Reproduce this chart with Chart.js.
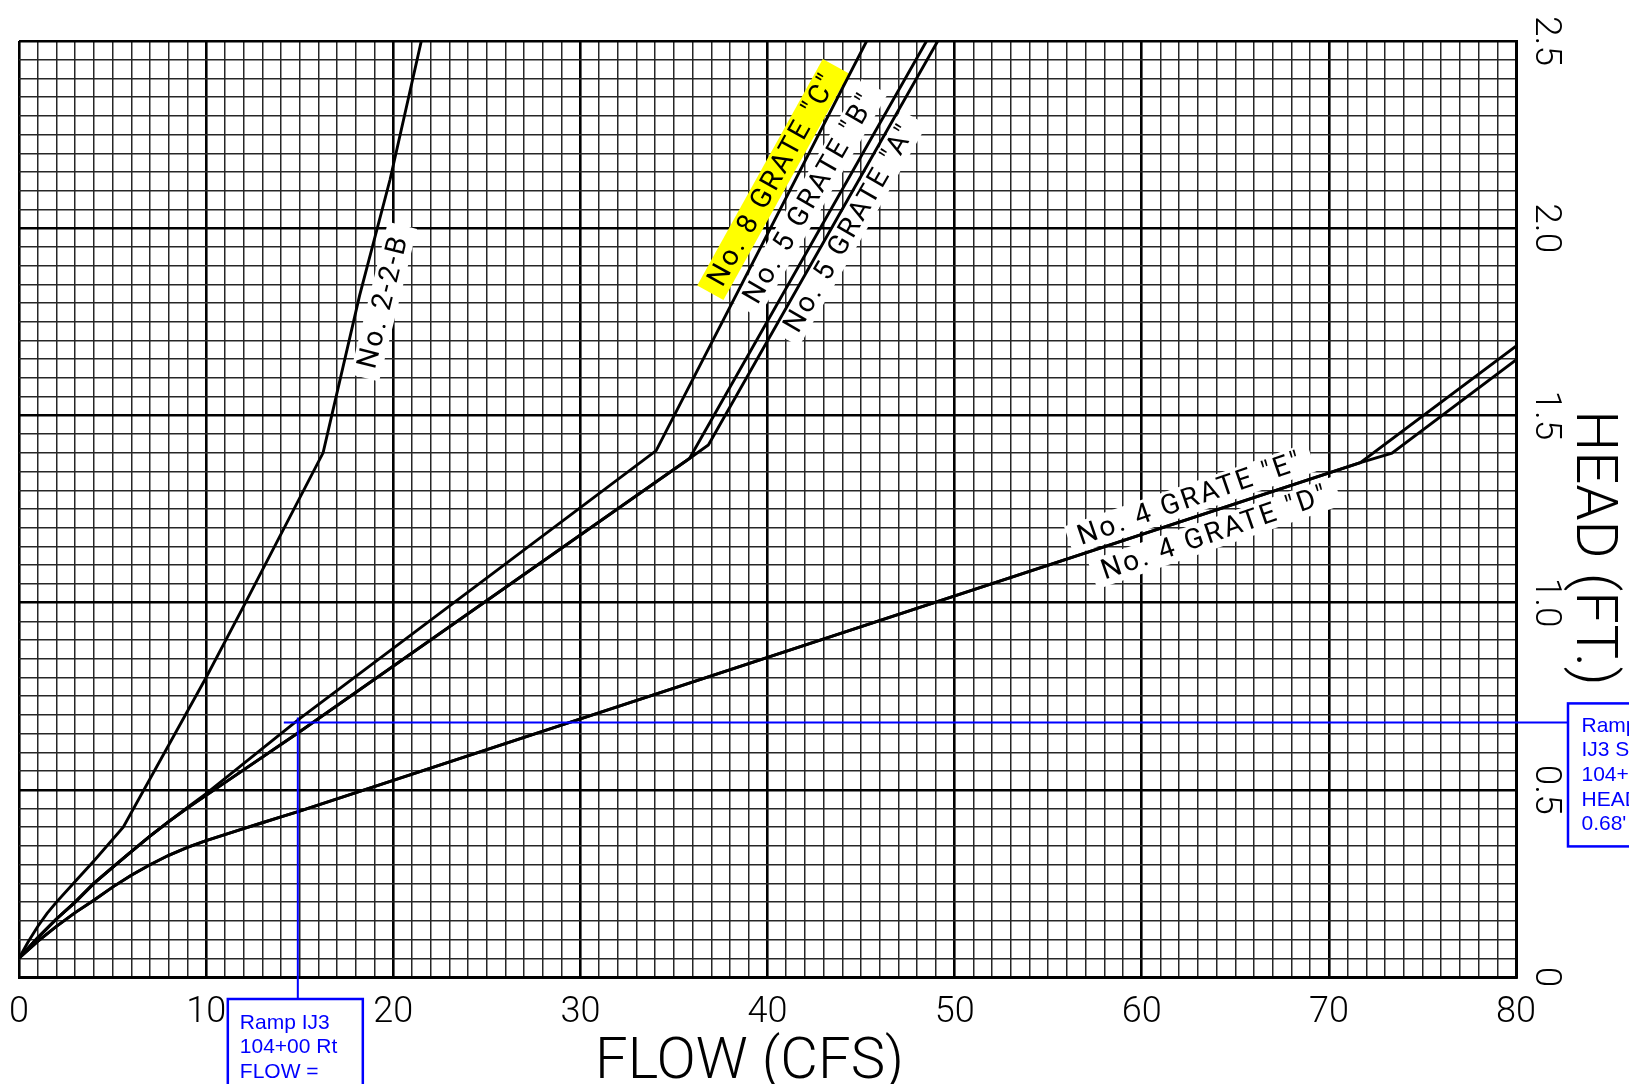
<!DOCTYPE html>
<html>
<head>
<meta charset="utf-8">
<title>Grate Inlet Capacity</title>
<script src="https://cdn.jsdelivr.net/npm/chart.js@4.4.1/dist/chart.umd.min.js"></script>
<style>
  html, body { margin: 0; padding: 0; background: #fff; }
  #wrap { width: 1629px; height: 1084px; position: relative; }
</style>
</head>
<body>
<div id="wrap"><canvas id="gratesChart"></canvas></div>
<script>
// values: flow (cfs) vs head (ft)
const flowTicks = [0, 10, 20, 30, 40, 50, 60, 70, 80];
const headTicks = [0, 0.5, 1.0, 1.5, 2.0, 2.5];

const grate22BFlow = [0, 0.5, 1, 1.5, 2, 3, 4, 5.57, 10, 12, 16.25, 18.2, 19.83, 21.5];
const grate22BHead = [0.05, 0.095, 0.135, 0.17, 0.2, 0.255, 0.31, 0.4, 0.8, 0.99, 1.4, 1.82, 2.13, 2.5];

const grate8CFlow = [0, 1, 2, 3, 4, 5, 6, 7, 8, 9, 10, 15, 34.05, 45.3];
const grate8CHead = [0.05, 0.105, 0.155, 0.2, 0.25, 0.293, 0.335, 0.376, 0.415, 0.453, 0.49, 0.69, 1.406, 2.5];

const grate5BFlow = [0, 1, 2, 3, 4, 5, 6, 7, 8, 9, 10, 15, 35.83, 48.5];
const grate5BHead = [0.05, 0.105, 0.155, 0.2, 0.25, 0.293, 0.335, 0.376, 0.415, 0.451, 0.485, 0.655, 1.385, 2.5];

const grate5AFlow = [0, 1, 2, 3, 4, 5, 6, 7, 8, 9, 10, 15, 35.83, 36.84, 49.1];
const grate5AHead = [0.05, 0.105, 0.155, 0.2, 0.25, 0.293, 0.335, 0.376, 0.415, 0.451, 0.485, 0.655, 1.385, 1.421, 2.5];

const grate4EFlow = [0, 1, 2, 3, 4, 5, 6, 7, 8, 9, 10, 11, 12, 13, 14, 15, 71.68, 80];
const grate4EHead = [0.05, 0.095, 0.135, 0.172, 0.205, 0.24, 0.272, 0.3, 0.325, 0.346, 0.364, 0.38, 0.396, 0.412, 0.428, 0.443, 1.374, 1.685];

const grate4DFlow = [0, 1, 2, 3, 4, 5, 6, 7, 8, 9, 10, 11, 12, 13, 14, 15, 71.68, 73.37, 80];
const grate4DHead = [0.05, 0.095, 0.135, 0.172, 0.205, 0.24, 0.272, 0.3, 0.325, 0.346, 0.364, 0.38, 0.396, 0.412, 0.428, 0.443, 1.374, 1.399, 1.648];

const curveNames = ['No. 2-2-B', 'No. 8 GRATE "C"', 'No. 5 GRATE "B"', 'No. 5 GRATE "A"', 'No. 4 GRATE "E"', 'No. 4 GRATE "D"'];

// design point (Ramp IJ3 104+00 Rt)
const designFlow = 14.9;
const designHead = 0.68;

function pts(xs, ys) {
    return xs.map((x, i) => ({ x: x, y: ys[i] }));
}

function curve(label, xs, ys) {
    return {
        label: label,
        data: pts(xs, ys),
        borderColor: "#000",
        borderWidth: 2.9,
        pointRadius: 0,
        tension: 0,
        fill: false
    };
}

// where each curve name sits (data coords) and its angle on screen
const curveLabelSpots = [
    { flow: 19.48, head: 1.804, angle: -76, bg: "#fff" },
    { flow: 40.3, head: 2.13, angle: -61, bg: "#ffff00" },
    { flow: 42.28, head: 2.08, angle: -60, bg: "#fff" },
    { flow: 44.41, head: 2.0, angle: -60, bg: "#fff" },
    { flow: 62.59, head: 1.277, angle: -19, bg: "#fff" },
    { flow: 63.92, head: 1.186, angle: -19, bg: "#fff" }
];

const labelFont = "400 28px Roboto";

function eachLabel(chart, fn) {
    const ctx = chart.ctx;
    const xs = chart.scales.x, ys = chart.scales.y;
    curveLabelSpots.forEach((s, i) => {
        ctx.save();
        ctx.translate(xs.getPixelForValue(s.flow), ys.getPixelForValue(s.head));
        ctx.rotate(s.angle * Math.PI / 180);
        ctx.font = labelFont;
        ctx.letterSpacing = "2.5px";
        fn(ctx, s, curveNames[i]);
        ctx.restore();
    });
}

const annotations = {
    id: "annotations",
    beforeDatasetsDraw(chart) {
        eachLabel(chart, (ctx, s, text) => {
            const w = ctx.measureText(text).width + 20;
            ctx.fillStyle = s.bg;
            ctx.fillRect(-w / 2, -15, w, 30);
        });
    },
    afterDatasetsDraw(chart) {
        const ctx = chart.ctx;
        const area = chart.chartArea;
        const xs = chart.scales.x, ys = chart.scales.y;

        eachLabel(chart, (ctx, s, text) => {
            ctx.fillStyle = "#000";
            ctx.textAlign = "center";
            ctx.textBaseline = "middle";
            ctx.fillText(text, 0, 1);
        });

        // blue design point lines and call-out boxes
        const px = xs.getPixelForValue(designFlow);
        const py = ys.getPixelForValue(designHead);
        const rightBoxX = area.right + 52;
        const bottomBoxY = area.bottom + 22;
        ctx.save();
        ctx.strokeStyle = "#0000ff";
        ctx.fillStyle = "#0000ff";
        ctx.lineWidth = 2;
        ctx.beginPath();
        ctx.moveTo(px - 14, py);
        ctx.lineTo(rightBoxX, py);
        ctx.moveTo(px, py - 5);
        ctx.lineTo(px, bottomBoxY);
        ctx.stroke();

        ctx.lineWidth = 2.5;
        ctx.strokeRect(rightBoxX, py - 19, 120, 143);
        ctx.strokeRect(px - 70, bottomBoxY, 135, 120);

        ctx.font = "21px 'Liberation Sans', Arial, sans-serif";
        ctx.textAlign = "left";
        ctx.textBaseline = "alphabetic";
        ["Ramp", "IJ3 SB", "104+00 Rt", "HEAD =", "0.68'"].forEach((t, i) => {
            ctx.fillText(t, rightBoxX + 13.5, py + 9.3 + i * 24.6);
        });
        ["Ramp IJ3", "104+00 Rt", "FLOW =", "14.9 cfs"].forEach((t, i) => {
            ctx.fillText(t, px - 58, bottomBoxY + 30 + i * 24.4);
        });
        ctx.restore();

        // axis titles
        ctx.save();
        ctx.fillStyle = "#000";
        ctx.font = "300 58px Roboto";
        ctx.textAlign = "center";
        ctx.textBaseline = "alphabetic";
        ctx.fillText("FLOW (CFS)", (area.left + area.right) / 2 - 18, area.bottom + 101);
        ctx.translate(area.right + 61, (area.top + area.bottom) / 2 + 39);
        ctx.rotate(Math.PI / 2);
        ctx.fillText("HEAD (FT.)", 0, 0);
        ctx.restore();
    }
};

function isMajorFlow(v) { return flowTicks.includes(Math.round(v * 100) / 100); }
function isMajorHead(v) { return headTicks.includes(Math.round(v * 100) / 100); }

const ctx = document.getElementById("gratesChart").getContext("2d");
new Chart(ctx, {
    type: "line",
    data: {
        datasets: [
            curve(curveNames[0], grate22BFlow, grate22BHead),
            curve(curveNames[1], grate8CFlow, grate8CHead),
            curve(curveNames[2], grate5BFlow, grate5BHead),
            curve(curveNames[3], grate5AFlow, grate5AHead),
            curve(curveNames[4], grate4EFlow, grate4EHead),
            curve(curveNames[5], grate4DFlow, grate4DHead)
        ]
    },
    options: {
        responsive: true,
        maintainAspectRatio: false,
        animation: false,
        layout: { padding: { left: 19, top: 41, right: 0, bottom: 0 } },
        plugins: {
            legend: { display: false },
            tooltip: { enabled: false }
        },
        scales: {
            x: {
                type: "linear",
                position: "bottom",
                min: 0,
                max: 80,
                afterFit: s => { s.height = 107; s.paddingLeft = 0; s.paddingRight = 0; },
                ticks: {
                    stepSize: 1,
                    autoSkip: false,
                    maxTicksLimit: 200,
                    maxRotation: 0,
                    minRotation: 0,
                    padding: 14,
                    color: "#000",
                    font: { family: "Roboto", size: 36, weight: 300 },
                    callback: v => isMajorFlow(v) ? String(Math.round(v)) : ""
                },
                grid: {
                    drawTicks: false,
                    color: c => isMajorFlow(c.tick.value) ? "#000" : "#262626",
                    lineWidth: c => isMajorFlow(c.tick.value) ? 2.6 : 1.5
                },
                border: { display: true, color: "#000", width: 3 }
            },
            y: {
                type: "linear",
                position: "right",
                min: 0,
                max: 2.5,
                afterFit: s => { s.width = 113; s.paddingTop = 0; s.paddingBottom = 0; },
                ticks: {
                    stepSize: 0.05,
                    autoSkip: false,
                    maxTicksLimit: 200,
                    minRotation: -90,
                    maxRotation: -90,
                    crossAlign: "center",
                    padding: 4,
                    color: "#000",
                    font: { family: "Roboto", size: 37, weight: 300 },
                    callback: v => {
                        if (!isMajorHead(v)) return "";
                        return v === 0 ? "0" : v.toFixed(1);
                    }
                },
                grid: {
                    drawTicks: false,
                    color: c => isMajorHead(c.tick.value) ? "#000" : "#262626",
                    lineWidth: c => isMajorHead(c.tick.value) ? 2.6 : 1.5
                },
                border: { display: true, color: "#000", width: 3 }
            }
        }
    },
    plugins: [annotations]
});
</script>
</body>
</html>
